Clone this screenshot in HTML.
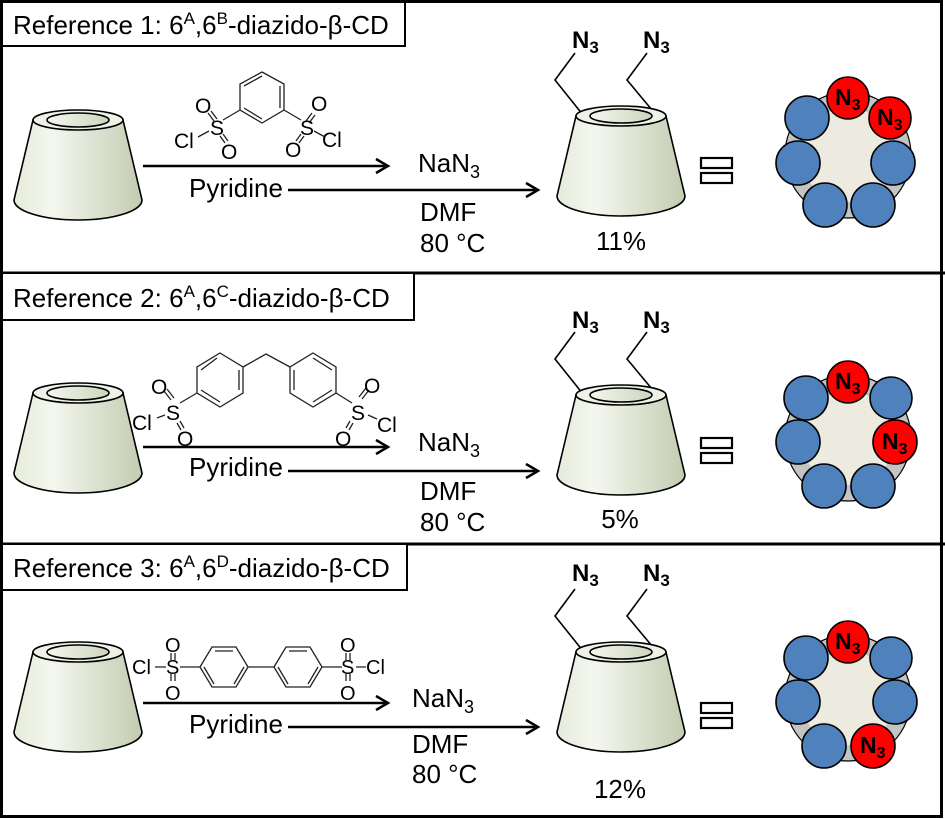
<!DOCTYPE html>
<html><head><meta charset="utf-8"><style>
html,body{margin:0;padding:0;background:#fff}
svg{display:block}
text{font-family:"Liberation Sans",Arial,sans-serif}
</style></head><body>
<svg width="945" height="819" viewBox="0 0 945 819" xmlns="http://www.w3.org/2000/svg">
<defs>
<linearGradient id="cg" x1="0" x2="1" y1="0" y2="0">
<stop offset="0" stop-color="#e6ebdb"/><stop offset="0.3" stop-color="#f4f7ee"/><stop offset="1" stop-color="#c3ccb1"/>
</linearGradient>
<linearGradient id="ig" x1="0" x2="1" y1="0" y2="0">
<stop offset="0" stop-color="#f4f7ee"/><stop offset="1" stop-color="#cdd5bd"/>
</linearGradient>
<g id="cone">
<path d="M-45,0 L-64,80 A64,20 0 0 0 64,80 L45,0 Z" fill="url(#cg)" stroke="#000" stroke-width="1.6"/>
<ellipse cx="0" cy="0" rx="45" ry="10" fill="#eef2e6" stroke="#000" stroke-width="1.6"/>
<ellipse cx="0" cy="0" rx="31" ry="7" fill="url(#ig)" stroke="#000" stroke-width="1.6"/>
</g>
<g id="arrows">
<line x1="143" y1="166" x2="385" y2="166" stroke="#000" stroke-width="2.5"/>
<path d="M376,159 L388,166 L376,173" fill="none" stroke="#000" stroke-width="2.5"/>
<line x1="288" y1="190" x2="535" y2="190" stroke="#000" stroke-width="2.5"/>
<path d="M526,183 L538,190 L526,197" fill="none" stroke="#000" stroke-width="2.5"/>
</g>
<g id="prod">
<path d="M-38,-1 L-66,-36 L-46,-63 M36,0 L6,-36 L26,-63" fill="none" stroke="#000" stroke-width="1.6"/>
<use href="#cone"/>
</g>
<g id="eq">
<rect x="701" y="158" width="31" height="10" fill="#fff" stroke="#000" stroke-width="2.2"/>
<rect x="701" y="173" width="31" height="10" fill="#fff" stroke="#000" stroke-width="2.2"/>
</g>
<g id="ringbase">
<circle cx="0" cy="0" r="63" fill="#c4c4c4" stroke="#000" stroke-width="1.2"/>
<circle cx="0" cy="0" r="47" fill="#edebe0"/>
</g>
</defs>

<rect x="1.5" y="1.5" width="940" height="815" fill="none" stroke="#000" stroke-width="3"/>
<line x1="0" y1="273" x2="945" y2="273" stroke="#000" stroke-width="3"/>
<line x1="0" y1="544" x2="945" y2="544" stroke="#000" stroke-width="3"/>

<rect x="2" y="2" width="403" height="44" fill="#fff" stroke="#000" stroke-width="2"/>
<text x="13" y="34" font-size="26">Reference 1: 6<tspan font-size="17" dy="-10">A</tspan><tspan dy="10">,6</tspan><tspan font-size="17" dy="-10">B</tspan><tspan dy="10">-diazido-β-CD</tspan></text>
<rect x="2" y="273" width="412" height="47" fill="#fff" stroke="#000" stroke-width="2"/>
<text x="13" y="307" font-size="26">Reference 2: 6<tspan font-size="17" dy="-10">A</tspan><tspan dy="10">,6</tspan><tspan font-size="17" dy="-10">C</tspan><tspan dy="10">-diazido-β-CD</tspan></text>
<rect x="2" y="544" width="405" height="46" fill="#fff" stroke="#000" stroke-width="2"/>
<text x="13" y="577" font-size="26">Reference 3: 6<tspan font-size="17" dy="-10">A</tspan><tspan dy="10">,6</tspan><tspan font-size="17" dy="-10">D</tspan><tspan dy="10">-diazido-β-CD</tspan></text>

<!-- Panel 1 -->
<use href="#cone" x="78" y="120"/>
<use href="#arrows"/>
<text x="189" y="197" font-size="26">Pyridine</text>
<text x="418" y="172" font-size="26">NaN<tspan font-size="18" dy="6">3</tspan></text>
<text x="420" y="221" font-size="26">DMF</text>
<text x="420" y="252" font-size="26">80 °C</text>
<use href="#prod" x="621" y="116"/>
<text x="572" y="48" font-size="24" font-weight="bold">N<tspan font-size="17" dy="5">3</tspan></text>
<text x="643" y="48" font-size="24" font-weight="bold">N<tspan font-size="17" dy="5">3</tspan></text>
<text x="621" y="250" font-size="26" text-anchor="middle">11%</text>
<use href="#eq"/>

<g stroke="#222" stroke-width="1.3" fill="none">
<polygon points="262,72 284,84 284,110 262,123 240,110 240,84"/>
<path d="M244,86 L262,76 M280,86 L280,108 M262,119 L244,108"/>
<path d="M240,110 L223,120 M284,110 L301,120 M209,131 L198,137 M314,131 L325,137"/>
<path d="M208,113 L214,121 M211,111 L217,119 M223,134 L228,141 M220,136 L225,143"/>
<path d="M312,113 L306,121 M315,115 L309,123 M301,134 L296,141 M304,136 L299,143"/>
</g>
<g font-size="21" fill="#000">
<text x="210" y="135">S</text><text x="195" y="113">O</text><text x="221" y="159">O</text><text x="174" y="148">Cl</text>
<text x="300" y="135">S</text><text x="311" y="111">O</text><text x="285" y="157">O</text><text x="322" y="147">Cl</text>
</g>

<g transform="translate(848,155)">
<use href="#ringbase"/>
<circle cx="-50" cy="8" r="22" fill="#4f81bd" stroke="#000" stroke-width="1.6"/>
<circle cx="-23" cy="50" r="22" fill="#4f81bd" stroke="#000" stroke-width="1.6"/>
<circle cx="25" cy="50" r="22" fill="#4f81bd" stroke="#000" stroke-width="1.6"/>
<circle cx="45" cy="8" r="22" fill="#4f81bd" stroke="#000" stroke-width="1.6"/>
<circle cx="-41" cy="-37" r="22" fill="#4f81bd" stroke="#000" stroke-width="1.6"/>
<circle cx="0" cy="-57" r="21" fill="#ff0000" stroke="#000" stroke-width="1.6"/>
<circle cx="42" cy="-37" r="21" fill="#ff0000" stroke="#000" stroke-width="1.6"/>
<text x="-13" y="-50" font-size="23" font-weight="bold">N<tspan font-size="16" dy="5">3</tspan></text>
<text x="29" y="-30" font-size="23" font-weight="bold">N<tspan font-size="16" dy="5">3</tspan></text>
</g>

<!-- Panel 2 -->
<use href="#cone" x="78" y="393"/>
<g transform="translate(0,281)"><use href="#arrows"/></g>
<text x="189" y="476" font-size="26">Pyridine</text>
<text x="418" y="451" font-size="26">NaN<tspan font-size="18" dy="6">3</tspan></text>
<text x="420" y="500" font-size="26">DMF</text>
<text x="420" y="531" font-size="26">80 °C</text>
<use href="#prod" x="621" y="395"/>
<text x="572" y="328" font-size="24" font-weight="bold">N<tspan font-size="17" dy="5">3</tspan></text>
<text x="643" y="328" font-size="24" font-weight="bold">N<tspan font-size="17" dy="5">3</tspan></text>
<text x="620" y="528" font-size="26" text-anchor="middle">5%</text>
<g transform="translate(0,280)"><use href="#eq"/></g>

<g stroke="#222" stroke-width="1.3" fill="none">
<polygon points="220,353 243,367 243,393 220,407 197,393 197,367"/>
<path d="M201,370 L217,358 M239,370 L239,390 M220,402 L201,390"/>
<polygon points="313,353 336,367 336,393 313,407 290,393 290,367"/>
<path d="M294,370 L294,390 M313,402 L332,390 M332,370 L313,358"/>
<path d="M243,367 L266,354 L290,367 M197,393 L180,403 M336,393 L352,403"/>
<path d="M164,391 L171,400 M167,389 L174,398 M180,421 L184,428 M177,423 L181,430"/>
<path d="M369,390 L362,399 M366,388 L359,397 M350,421 L346,428 M353,423 L349,430"/>
<path d="M165,415 L157,418 M368,415 L377,419"/>
</g>
<g font-size="21" fill="#000">
<text x="166" y="420">S</text><text x="151" y="394">O</text><text x="177" y="446">O</text><text x="132" y="430">Cl</text>
<text x="351" y="420">S</text><text x="364" y="393">O</text><text x="335" y="446">O</text><text x="377" y="432">Cl</text>
</g>

<g transform="translate(848,438)">
<use href="#ringbase"/>
<circle cx="-50" cy="4" r="22" fill="#4f81bd" stroke="#000" stroke-width="1.6"/>
<circle cx="-24" cy="48" r="22" fill="#4f81bd" stroke="#000" stroke-width="1.6"/>
<circle cx="25" cy="48" r="22" fill="#4f81bd" stroke="#000" stroke-width="1.6"/>
<circle cx="-42" cy="-40" r="22" fill="#4f81bd" stroke="#000" stroke-width="1.6"/>
<circle cx="43" cy="-40" r="21" fill="#4f81bd" stroke="#000" stroke-width="1.6"/>
<circle cx="0" cy="-56" r="21" fill="#ff0000" stroke="#000" stroke-width="1.6"/>
<circle cx="47" cy="4" r="22" fill="#ff0000" stroke="#000" stroke-width="1.6"/>
<text x="-13" y="-49" font-size="23" font-weight="bold">N<tspan font-size="16" dy="5">3</tspan></text>
<text x="34" y="11" font-size="23" font-weight="bold">N<tspan font-size="16" dy="5">3</tspan></text>
</g>

<!-- Panel 3 -->
<use href="#cone" x="78" y="652"/>
<g transform="translate(0,537)"><use href="#arrows"/></g>
<text x="189" y="733" font-size="26">Pyridine</text>
<text x="412" y="707" font-size="26">NaN<tspan font-size="18" dy="6">3</tspan></text>
<text x="412" y="753" font-size="26">DMF</text>
<text x="412" y="783" font-size="26">80 °C</text>
<use href="#prod" x="621" y="652"/>
<text x="572" y="581" font-size="24" font-weight="bold">N<tspan font-size="17" dy="5">3</tspan></text>
<text x="643" y="581" font-size="24" font-weight="bold">N<tspan font-size="17" dy="5">3</tspan></text>
<text x="620" y="798" font-size="26" text-anchor="middle">12%</text>
<g transform="translate(0,545)"><use href="#eq"/></g>

<g stroke="#222" stroke-width="1.3" fill="none">
<polygon points="200,667 212,647 236,647 248,667 236,687 212,687"/>
<path d="M215,651 L233,651 M244,667 L234,684 M214,684 L204,667"/>
<polygon points="274,667 286,647 310,647 322,667 310,687 286,687"/>
<path d="M289,651 L307,651 M318,667 L308,684 M288,684 L278,667"/>
<path d="M248,667 L274,667 M180,667 L200,667 M322,667 L342,667 M155,667 L166,667 M356,667 L366,667"/>
<path d="M171,653 L171,660 M175,653 L175,660 M171,674 L171,681 M175,674 L175,681"/>
<path d="M346,653 L346,660 M350,653 L350,660 M346,674 L346,681 M350,674 L350,681"/>
</g>
<g font-size="20" fill="#000">
<text x="166" y="674">S</text><text x="165" y="652">O</text><text x="165" y="700">O</text><text x="132" y="674">Cl</text>
<text x="341" y="674">S</text><text x="340" y="652">O</text><text x="340" y="700">O</text><text x="366" y="674">Cl</text>
</g>

<g transform="translate(848,698)">
<use href="#ringbase"/>
<circle cx="-50" cy="4" r="22" fill="#4f81bd" stroke="#000" stroke-width="1.6"/>
<circle cx="-24" cy="48" r="22" fill="#4f81bd" stroke="#000" stroke-width="1.6"/>
<circle cx="-42" cy="-40" r="22" fill="#4f81bd" stroke="#000" stroke-width="1.6"/>
<circle cx="43" cy="-40" r="21" fill="#4f81bd" stroke="#000" stroke-width="1.6"/>
<circle cx="47" cy="4" r="22" fill="#4f81bd" stroke="#000" stroke-width="1.6"/>
<circle cx="0" cy="-56" r="21" fill="#ff0000" stroke="#000" stroke-width="1.6"/>
<circle cx="25" cy="48" r="22" fill="#ff0000" stroke="#000" stroke-width="1.6"/>
<text x="-13" y="-49" font-size="23" font-weight="bold">N<tspan font-size="16" dy="5">3</tspan></text>
<text x="12" y="55" font-size="23" font-weight="bold">N<tspan font-size="16" dy="5">3</tspan></text>
</g>
</svg>
</body></html>
